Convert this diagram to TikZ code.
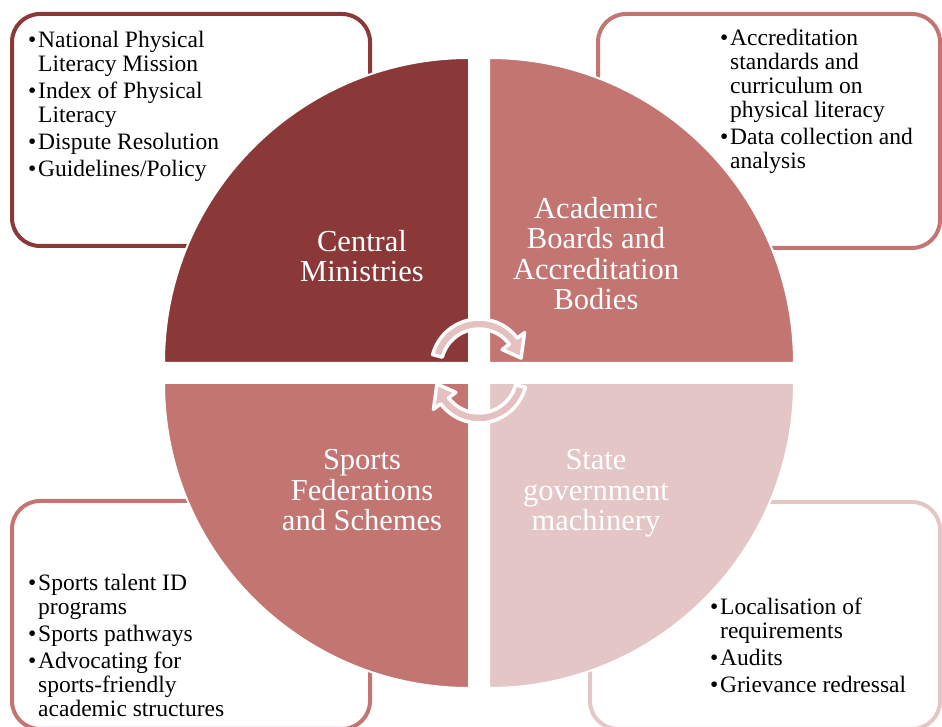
\documentclass[tikz,border=0pt]{standalone}
\usepackage{fontspec}
\setmainfont{Liberation Serif}
\usepackage{xcolor}
\definecolor{Col1}{RGB}{139,56,56}
\definecolor{Col2}{RGB}{195,117,114}
\definecolor{Col3}{RGB}{229,198,198}
\definecolor{ColA}{RGB}{228,192,192}
\usepackage{tikz}
\tikzstyle{Quad}=[draw=white,line width=2pt]
\tikzstyle{Box}=[line width=4pt,rounded corners=28pt]
\tikzstyle{Label}=[text=white,align=center,inner sep=0pt,
font=\fontsize{30.5}{30.5}\selectfont]
\tikzstyle{List}=[align=left,inner sep=0pt,
font=\fontsize{23.5}{24}\selectfont]
\tikzstyle{Turn}=[fill=ColA,draw=white,line width=3.5pt,line join=round]
\newcommand{\bitem}{\makebox[10pt][l]{\textbullet}}
\newcommand{\bcont}{\hspace*{10pt}}

\begin{document}
\begin{tikzpicture}[x=1pt,y=1pt]
        \useasboundingbox(0,0)rectangle(942,727);
        \clip(0,0)rectangle(942,727);
        % boxes behind the circle
        \draw[Box,draw=Col1](12,713)rectangle(370,481);
        \draw[Box,draw=Col2](598,713)rectangle(940,479);
        \draw[Box,draw=Col2](12,226)rectangle(370,-2);
        \draw[Box,draw=Col3](590,225)rectangle(940,-2);
        % four quarters
        \filldraw[Quad,fill=Col1](469,364)--++(-305,0)
            arc(180:90:305pt)--cycle;
        \filldraw[Quad,fill=Col2](489,364)--++(0,305)
            arc(90:0:305pt)--cycle;
        \filldraw[Quad,fill=Col2](469,344)--++(-305,0)
            arc(180:270:305pt)--cycle;
        \filldraw[Quad,fill=Col3](489,344)--++(0,-305)
            arc(270:360:305pt)--cycle;
        % base = last line
        \node[Label,anchor=base](CM)at(362,445)
            {Central\\Ministries};
        \node[Label,anchor=base](AB)at(596,417)
            {Academic\\Boards and\\Accreditation\\Bodies};
        \node[Label,anchor=base](SF)at(362,196)
            {Sports\\Federations\\and Schemes};
        \node[Label,anchor=base](SG)at(596,196)
            {State\\government\\machinery};
        % lists
        \node[List,anchor=base west](CMl)at(28,550)
            {\bitem National Physical\\\bcont Literacy Mission\\[3pt]
             \bitem Index of Physical\\\bcont Literacy\\[3pt]
             \bitem Dispute Resolution\\[3pt]
             \bitem Guidelines/Policy};
        \node[List,anchor=base west](ABl)at(720,558)
            {\bitem Accreditation\\\bcont standards and\\
             \bcont curriculum on\\\bcont physical literacy\\[3pt]
             \bitem Data collection and\\\bcont analysis};
        \node[List,anchor=base west](SFl)at(28,10)
            {\bitem Sports talent ID\\\bcont programs\\[3pt]
             \bitem Sports pathways\\[3pt]
             \bitem Advocating for\\\bcont sports-friendly\\
             \bcont academic structures};
        \node[List,anchor=base west](SGl)at(710,34)
            {\bitem Localisation of\\\bcont requirements\\[3pt]
             \bitem Audits\\[3pt]
             \bitem Grievance redressal};
        % turning arrows
        \begin{scope}[shift={(479,360)}]
            \filldraw[Turn](165:48pt)arc(165:37:48pt)--(37:57pt)
                --(12:43pt)--(37:29pt)--(37:38pt)
                arc(37:165:38pt)--cycle;
        \end{scope}
        \begin{scope}[shift={(479,352)},rotate=180]
            \filldraw[Turn](165:48pt)arc(165:37:48pt)--(37:57pt)
                --(12:43pt)--(37:29pt)--(37:38pt)
                arc(37:165:38pt)--cycle;
        \end{scope}
    \end{tikzpicture}
\end{document}
